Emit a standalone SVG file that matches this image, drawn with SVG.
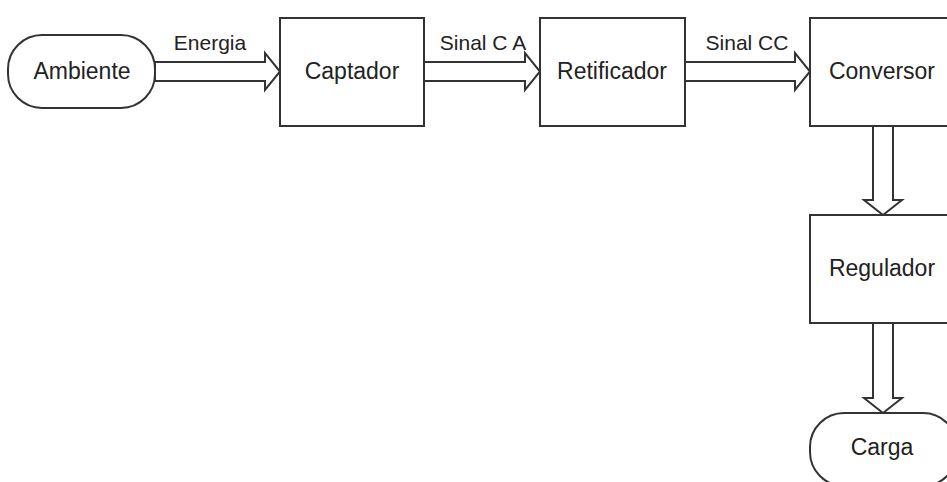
<svg xmlns="http://www.w3.org/2000/svg" width="947" height="482" viewBox="0 0 947 482">
<style>
.box{fill:#fff;stroke:#333;stroke-width:2}
.arr{fill:#fff;stroke:#333;stroke-width:2;stroke-linejoin:miter}
.t{font-family:"Liberation Sans",Arial,sans-serif;font-size:23px;fill:#222;text-anchor:middle}
.l{font-family:"Liberation Sans",Arial,sans-serif;font-size:21px;fill:#222;text-anchor:middle}
</style>
<rect width="947" height="482" fill="#fff"/>
<g id="connectors">
<polygon class="arr" points="155,62 265,62 265,53 280,71.5 265,90 265,81 155,81"/>
<polygon class="arr" points="424,62 525,62 525,53 540,71.5 525,90 525,81 424,81"/>
<polygon class="arr" points="685,62 795,62 795,53 810,71.5 795,90 795,81 685,81"/>
<polygon class="arr" points="873,126 873,200 864,200 883,215 902,200 893,200 893,126"/>
<polygon class="arr" points="873,323 873,398 864,398 883,413 902,398 893,398 893,323"/>
<text class="l" x="210" y="50">Energia</text>
<text class="l" x="483" y="50">Sinal C A</text>
<text class="l" x="747" y="50">Sinal CC</text>
</g>
<g id="ambiente">
<rect class="box" x="8" y="35" width="147" height="73" rx="34" ry="34"/>
<text class="t" x="82" y="79">Ambiente</text>
</g>
<g id="captador">
<rect class="box" x="280" y="18" width="144" height="108"/>
<text class="t" x="352" y="79">Captador</text>
</g>
<g id="retificador">
<rect class="box" x="540" y="18" width="145" height="108"/>
<text class="t" x="612" y="79">Retificador</text>
</g>
<g id="conversor">
<rect class="box" x="810" y="18" width="145" height="108"/>
<text class="t" x="882" y="79">Conversor</text>
</g>
<g id="regulador">
<rect class="box" x="810" y="215" width="145" height="108"/>
<text class="t" x="882" y="276">Regulador</text>
</g>
<g id="carga">
<rect class="box" x="810" y="413" width="147" height="73" rx="34" ry="34"/>
<text class="t" x="882" y="455">Carga</text>
</g>
</svg>
